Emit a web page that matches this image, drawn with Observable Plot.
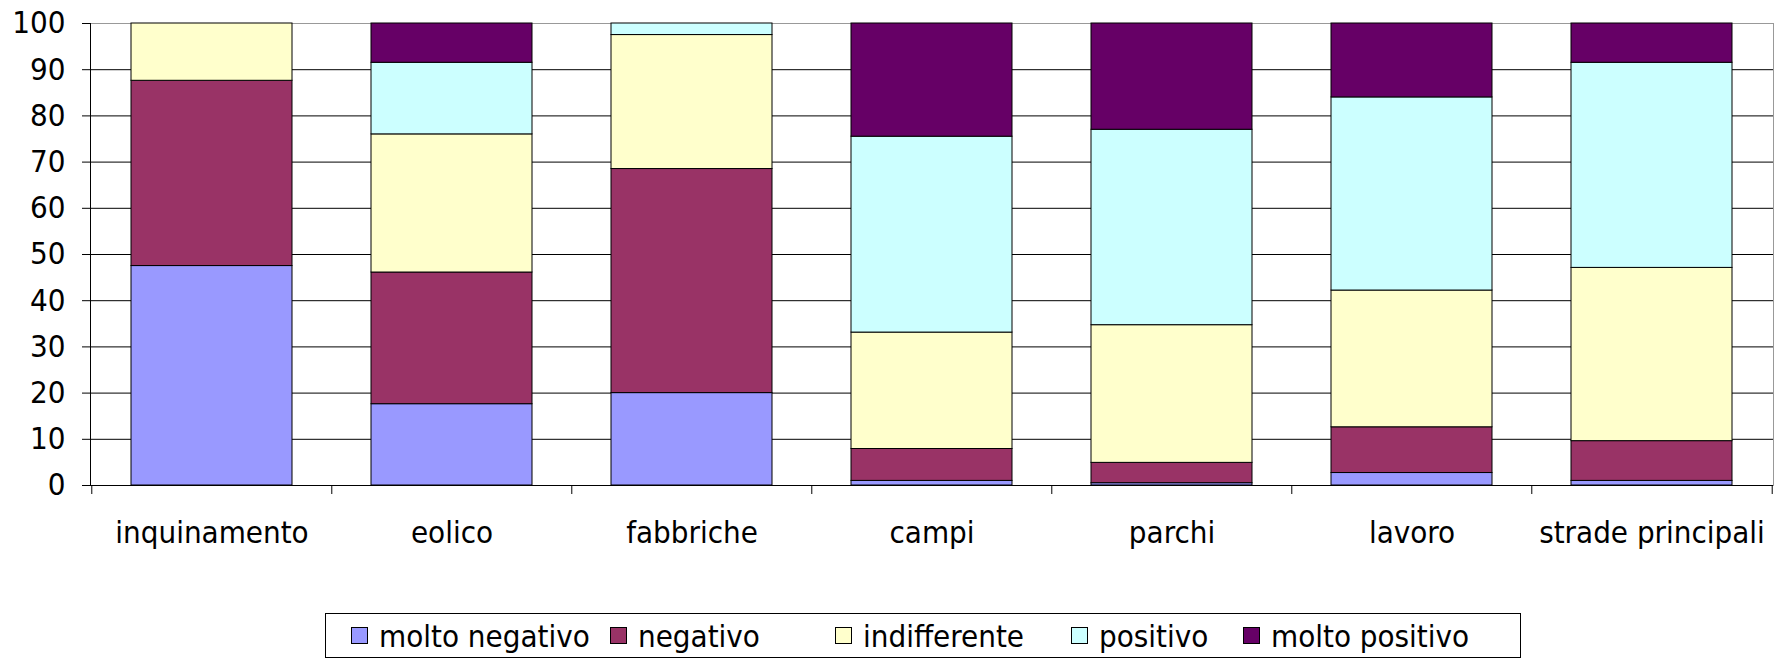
<!DOCTYPE html>
<html>
<head>
<meta charset="utf-8">
<script src="https://cdn.jsdelivr.net/npm/d3@7"></script>
<script src="https://cdn.jsdelivr.net/npm/@observablehq/plot@0.6"></script>
<style>
  body { margin: 0; background: #fff; font-family: "DejaVu Sans Condensed", "DejaVu Sans", sans-serif; }
  #wrap { position: relative; width: 1777px; height: 659px; }
  #legend {
    position: absolute; left: 325px; top: 613px; width: 1196px; height: 45px;
    box-sizing: border-box; border: 1px solid #000; display: flex; align-items: center;
    padding-left: 25px; font-size: 31px; color: #000; white-space: nowrap;
  }
  .item { display: flex; align-items: center; flex: none; }
  .sw { width: 17px; height: 17px; border: 1px solid #000; margin-right: 11px; box-sizing: border-box; }
</style>
</head>
<body>
<div id="wrap"><div id="chart"></div><div id="legend"></div></div>
<script>
const categories = ["inquinamento", "eolico", "fabbriche", "campi", "parchi", "lavoro", "strade principali"];
const series = ["molto negativo", "negativo", "indifferente", "positivo", "molto positivo"];
const colors = ["#9999FF", "#993366", "#FFFFCC", "#CCFFFF", "#660066"];
const moltoNegativo = [47.5, 17.6, 20.0, 1.0, 0.5, 2.7, 1.0];
const negativo      = [40.1, 28.5, 48.5, 6.9, 4.4, 9.9, 8.6];
const indifferente  = [12.4, 29.9, 29.0, 25.2, 29.8, 29.6, 37.5];
const positivo      = [0, 15.5, 2.5, 42.4, 42.3, 41.8, 44.4];
const moltoPositivo = [0, 8.5, 0, 24.5, 23.0, 16.0, 8.5];
const yTicks = [0, 10, 20, 30, 40, 50, 60, 70, 80, 90, 100];

const values = [moltoNegativo, negativo, indifferente, positivo, moltoPositivo];
const rows = [];
series.forEach((s, si) => categories.forEach((c, ci) => {
  if (values[si][ci] > 0) rows.push({cat: c, series: s, value: values[si][ci]});
}));

const W = 1777, H = 600, ml = 90, mr = 4, mt = 23, mb = 115;
const step = (W - ml - mr) / categories.length;
const font = '"DejaVu Sans Condensed", "DejaVu Sans", sans-serif';

const chart = Plot.plot({
  width: W, height: H,
  marginLeft: ml, marginRight: mr, marginTop: mt, marginBottom: mb,
  style: {fontFamily: font, fontSize: "31px", color: "#000", background: "#fff"},
  x: {domain: categories, paddingInner: 0.33, paddingOuter: 0.165, label: null},
  y: {domain: [0, 100], label: null},
  color: {domain: series, range: colors},
  marks: [
    Plot.ruleY(yTicks.filter(d => d > 0 && d < 100), {stroke: "#000", strokeWidth: 1}),
    Plot.frame({stroke: "#999"}),
    Plot.barY(rows, {x: "cat", y: "value", fill: "series", stroke: "#000", strokeWidth: 1}),
    Plot.ruleY([0], {stroke: "#000"}),
    Plot.frame({anchor: "left", stroke: "#000"}),
    Plot.axisY({ticks: yTicks, tickSize: 8, tickPadding: 17, tickFormat: d => String(d), label: null, stroke: "#000"}),
    Plot.axisX({tickSize: 0, tickPadding: 35, label: null}),
    Plot.ruleX(categories, {x: d => d, dx: -step / 2, y1: 0, y2: 0, insetBottom: -9, stroke: "#000"}),
    Plot.ruleX(categories.slice(-1), {x: d => d, dx: step / 2, y1: 0, y2: 0, insetBottom: -9, stroke: "#000"})
  ]
});
document.getElementById("chart").appendChild(chart);

const legend = document.getElementById("legend");
const itemWidths = [259, 225, 236, 172];
series.forEach((s, i) => {
  const item = document.createElement("div");
  item.className = "item";
  if (i < itemWidths.length) item.style.width = itemWidths[i] + "px";
  const sw = document.createElement("div");
  sw.className = "sw";
  sw.style.background = colors[i];
  const t = document.createElement("span");
  t.textContent = s;
  item.appendChild(sw);
  item.appendChild(t);
  legend.appendChild(item);
});
</script>
</body>
</html>
